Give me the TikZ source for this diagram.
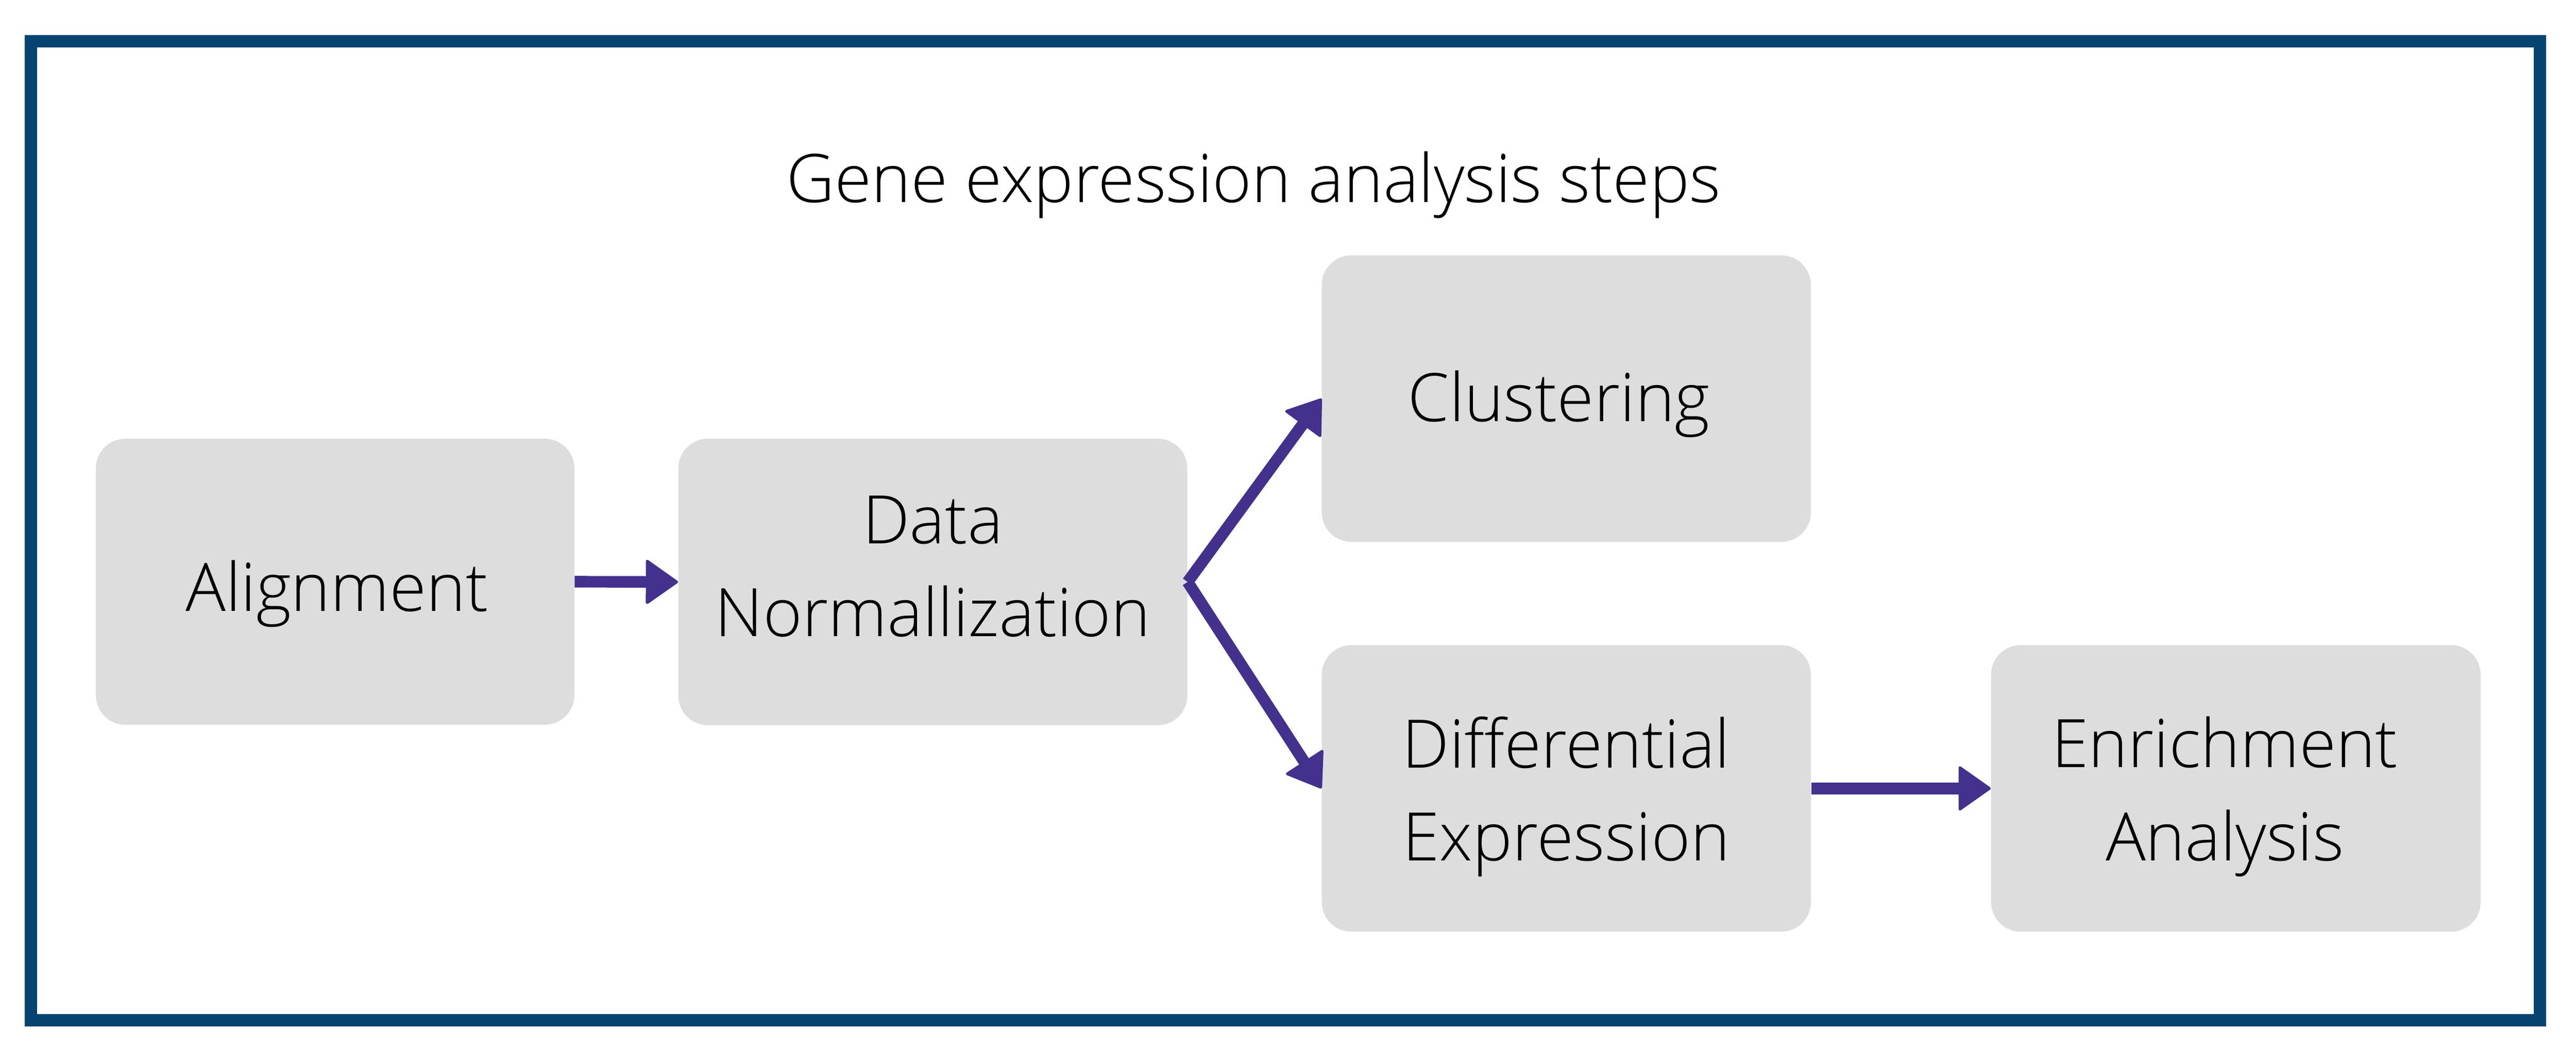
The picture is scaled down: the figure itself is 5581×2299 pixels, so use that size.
\documentclass[tikz,border=0pt]{standalone}
\usepackage{fontspec}
\setmainfont{Open Sans Light}
\usetikzlibrary{arrows.meta}
\definecolor{framec}{RGB}{5,67,113}
\definecolor{arrowc}{RGB}{68,48,141}
\definecolor{boxc}{RGB}{221,221,221}
\tikzset{
  stepbox/.style={draw=none, fill=boxc, rounded corners=0.64cm, inner sep=0pt},
  steptext/.style={anchor=base, align=center, inner sep=0pt, font=\fontsize{41.2pt}{57.2pt}\selectfont},
  flow/.style={draw=arrowc, line width=0.25cm, -{Triangle[length=0.72cm,width=1.0cm,round,line width=0.06cm]}}
}
\begin{document}
\begin{tikzpicture}[x=0.01cm, y=-0.01cm]
\useasboundingbox (0,0) rectangle (5581,2299);
\draw[framec, line width=0.27cm] (67,89) rectangle (5503,2209);
\node[steptext] (title) at (2716,438) {Gene expression analysis steps};
\node[stepbox, minimum width=10.36cm, minimum height=6.19cm] (align) at (726,1259.5) {};
\node[stepbox, minimum width=11.02cm, minimum height=6.20cm] (norm) at (2021,1260) {};
\node[stepbox, minimum width=10.59cm, minimum height=6.20cm] (clust) at (3393.5,863) {};
\node[stepbox, minimum width=10.59cm, minimum height=6.20cm] (diff) at (3393.5,1707) {};
\node[stepbox, minimum width=10.60cm, minimum height=6.20cm] (enrich) at (4844,1707) {};
\node[steptext] (alignT) at (730,1323) {Alignment};
\node[steptext] (normT) at (2021,1378) {Data\\Normallization};
\node[steptext] (clustT) at (3377,913) {Clustering};
\node[steptext] (diffT) at (3393,1864) {Differential\\Expression};
\node[steptext] (enrichT) at (4820,1863) {Enrichment\\Analysis};
\draw[flow] (align.east) -- (norm.west);
\draw[flow] (norm.east) -- (clust.west);
\draw[flow] (norm.east) -- (diff.west);
\draw[flow] (diff.east) -- (enrich.west);
\end{tikzpicture}
\end{document}
